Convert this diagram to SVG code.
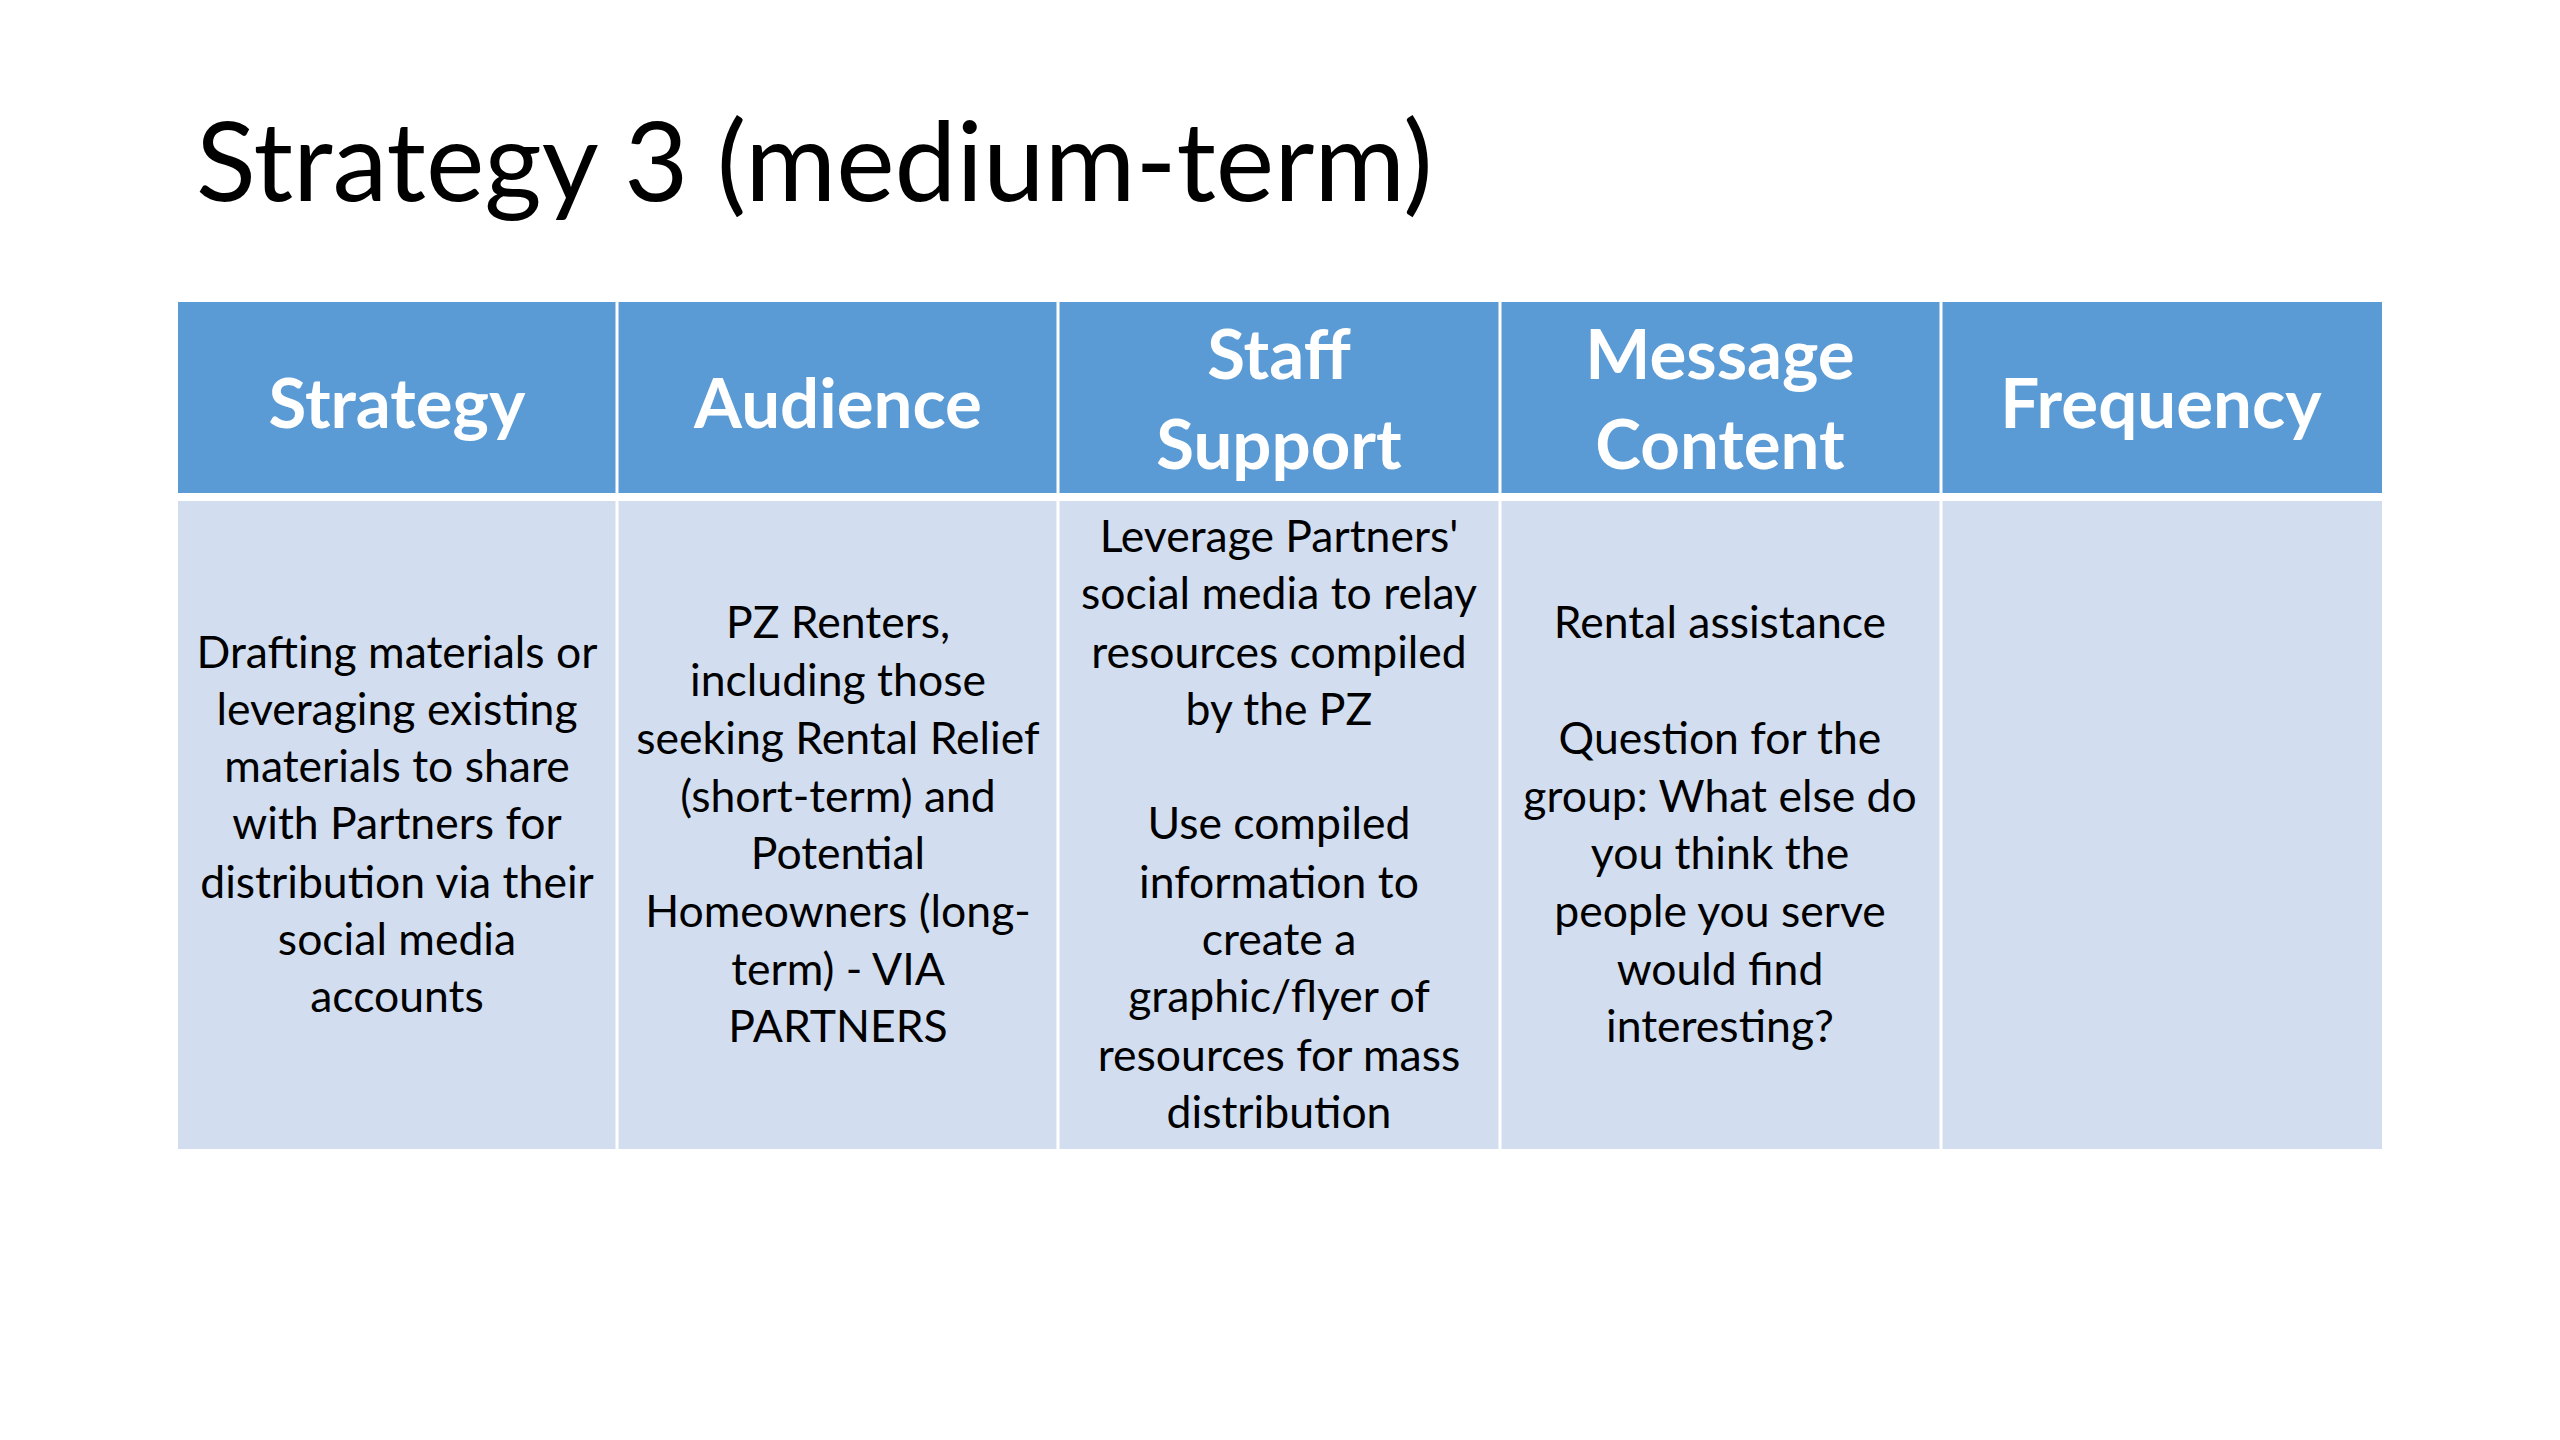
<svg xmlns="http://www.w3.org/2000/svg" width="2560" height="1440" viewBox="0 0 2560 1440">
<style>
.title{font-family:Lato,"Liberation Sans",sans-serif;font-size:110.5px;fill:#000}
.hd{fill:#5B9BD5}
.bd{fill:#D2DEEF}
.ht{font-family:Lato,"Liberation Sans",sans-serif;font-weight:bold;font-size:69px;fill:#fff;text-anchor:middle}
.bt{font-family:Lato,"Liberation Sans",sans-serif;font-size:44.5px;fill:#000;text-anchor:middle}
.sep{stroke:#fff;stroke-width:3}
</style>
<rect width="2560" height="1440" fill="#fff"/>
<text class="title" x="196" y="201">Strategy 3 (medium-term)</text>
<g id="table">
<rect class="hd" x="178" y="302" width="2204" height="191"/>
<rect class="bd" x="178" y="501" width="2204" height="648"/>
</g>
<g id="connectors">
<line class="sep" x1="617" y1="302" x2="617" y2="1149"/>
<line class="sep" x1="1058" y1="302" x2="1058" y2="1149"/>
<line class="sep" x1="1500" y1="302" x2="1500" y2="1149"/>
<line class="sep" x1="1941" y1="302" x2="1941" y2="1149"/>
</g>
<g id="col-strategy">
<text class="ht" x="397" y="428">Strategy</text>
<text class="bt" x="397"><tspan x="397" y="668">Drafting materials or</tspan><tspan x="397" y="725">leveraging existing</tspan><tspan x="397" y="782">materials to share</tspan><tspan x="397" y="839">with Partners for</tspan><tspan x="397" y="898">distribution via their</tspan><tspan x="397" y="955">social media</tspan><tspan x="397" y="1012">accounts</tspan></text>
</g>
<g id="col-audience">
<text class="ht" x="838" y="428">Audience</text>
<text class="bt"><tspan x="838" y="638">PZ Renters,</tspan><tspan x="838" y="696">including those</tspan><tspan x="838" y="754">seeking Rental Relief</tspan><tspan x="838" y="812">(short-term) and</tspan><tspan x="838" y="869">Potential</tspan><tspan x="838" y="927">Homeowners (long-</tspan><tspan x="838" y="985">term) - VIA</tspan><tspan x="838" y="1042">PARTNERS</tspan></text>
</g>
<g id="col-staff">
<text class="ht"><tspan x="1279" y="379">Staff</tspan><tspan x="1279" y="469">Support</tspan></text>
<text class="bt"><tspan x="1279" y="552">Leverage Partners'</tspan><tspan x="1279" y="609">social media to relay</tspan><tspan x="1279" y="668">resources compiled</tspan><tspan x="1279" y="725">by the PZ</tspan><tspan x="1279" y="839">Use compiled</tspan><tspan x="1279" y="898">information to</tspan><tspan x="1279" y="955">create a</tspan><tspan x="1279" y="1012">graphic/flyer of</tspan><tspan x="1279" y="1071">resources for mass</tspan><tspan x="1279" y="1128">distribution</tspan></text>
</g>
<g id="col-message">
<text class="ht"><tspan x="1720" y="379">Message</tspan><tspan x="1720" y="469">Content</tspan></text>
<text class="bt"><tspan x="1720" y="638">Rental assistance</tspan><tspan x="1720" y="754">Question for the</tspan><tspan x="1720" y="812">group: What else do</tspan><tspan x="1720" y="869">you think the</tspan><tspan x="1720" y="927">people you serve</tspan><tspan x="1720" y="985">would find</tspan><tspan x="1720" y="1042">interesting?</tspan></text>
</g>
<g id="col-frequency">
<text class="ht" x="2161" y="428">Frequency</text>
</g>
</svg>
